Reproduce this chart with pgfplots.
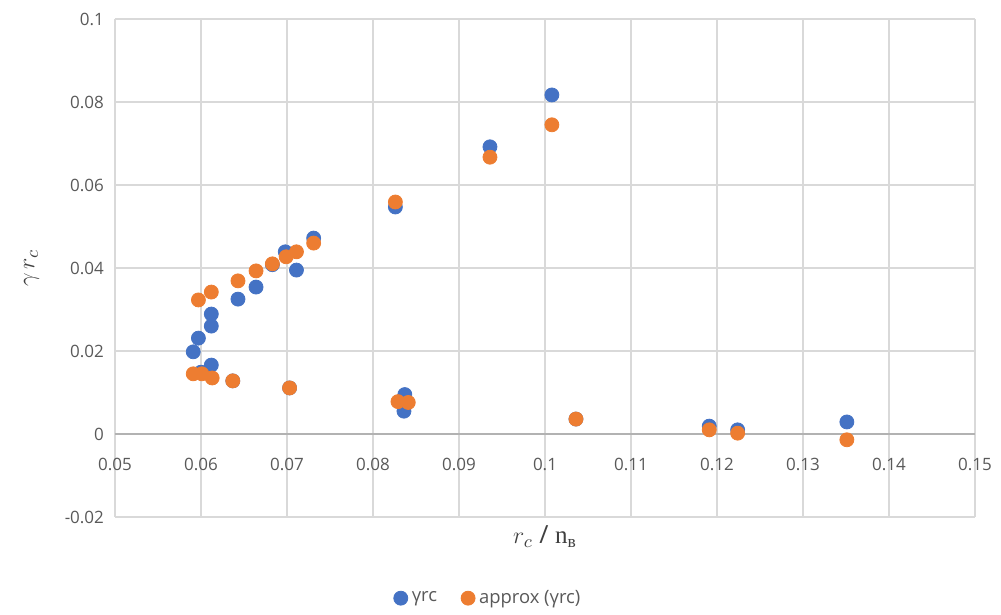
\documentclass[border=0pt]{standalone}
\usepackage{pgfplots}
\pgfplotsset{compat=1.18}
\usepackage{fontspec}
\setmainfont{Open Sans}
\newfontfamily\serifcyr{Liberation Serif}
\definecolor{xblue}{HTML}{4472C4}
\definecolor{xorange}{HTML}{ED7D31}
\definecolor{gridc}{HTML}{D9D9D9}
\definecolor{tickc}{HTML}{595959}
\begin{document}
\begin{tikzpicture}
\begin{axis}[
  scale only axis, width=430pt, height=249pt, anchor=south west, at={(0,0)},
  xmin=0.05, xmax=0.15, ymin=-0.02, ymax=0.1,
  xtick={0.05,0.06,0.07,0.08,0.09,0.1,0.11,0.12,0.13,0.14,0.15},
  xticklabels={0.05,0.06,0.07,0.08,0.09,0.1,0.11,0.12,0.13,0.14,0.15},
  ytick={-0.02,0,0.02,0.04,0.06,0.08,0.1},
  yticklabels={-0.02,0,0.02,0.04,0.06,0.08,0.1},
  grid=major, major grid style={gridc, line width=0.75pt},
  axis line style={draw=none}, major tick length=0pt,
  ticklabel style={font=\fontsize{8.5}{10}\selectfont, text=tickc},
  xticklabel style={yshift=33pt},
  yticklabel style={xshift=-2pt},
  xlabel={$r_c$ / {\serifcyr n\textsubscript{в}}},
  ylabel={$\gamma\, r_c$},
  label style={font=\fontsize{12.5}{14}\selectfont, text=black!75},
  xlabel style={yshift=-1pt},
  ylabel style={yshift=6pt},
  legend style={at={(0.435,-0.163)}, anchor=center, draw=none, legend columns=2,
    font=\fontsize{9.2}{11}\selectfont, text=tickc,
    /tikz/every even column/.append style={column sep=10pt}},
  legend cell align=left,
  clip=false,
]
\draw[black!30, line width=0.75pt] (axis cs:0.05,0) -- (axis cs:0.15,0);
\addplot[only marks, mark=*, mark size=3.5pt, color=xblue, mark options={draw=xblue, fill=xblue}] coordinates {
(0.0731,0.0472) (0.0698,0.0439) (0.0711,0.0395) (0.0683,0.0408) (0.0664,0.0354)
(0.0643,0.0325) (0.0612,0.0289) (0.0612,0.0260) (0.0597,0.0231) (0.0591,0.0198)
(0.0612,0.0166) (0.0600,0.0149) (0.0637,0.0128) (0.0703,0.0111)
(0.0837,0.0095) (0.0836,0.0055) (0.0832,0.0078)
(0.1008,0.0817) (0.0936,0.0692) (0.0826,0.0547) (0.1036,0.0036)
(0.1191,0.0019) (0.1224,0.0010) (0.1351,0.0029)
};
\addlegendentry{γrc}
\addplot[only marks, mark=*, mark size=3.5pt, color=xorange, mark options={draw=xorange, fill=xorange}] coordinates {
(0.0731,0.0460) (0.0711,0.0439) (0.0699,0.0427) (0.0683,0.0410) (0.0664,0.0393)
(0.0643,0.0369) (0.0612,0.0342) (0.0597,0.0323) (0.0591,0.0145) (0.0601,0.0145)
(0.0613,0.0135) (0.0637,0.0128) (0.0703,0.0111)
(0.0829,0.0078) (0.0841,0.0076)
(0.1008,0.0745) (0.0936,0.0667) (0.0826,0.0559) (0.1036,0.0036)
(0.1191,0.0010) (0.1224,0.0002) (0.1351,-0.0014)
};
\addlegendentry{approx (γrc)}
\end{axis}
\path[use as bounding box] (-57.5pt,-47.5pt) rectangle (443pt,258.5pt);
\end{tikzpicture}
\end{document}
